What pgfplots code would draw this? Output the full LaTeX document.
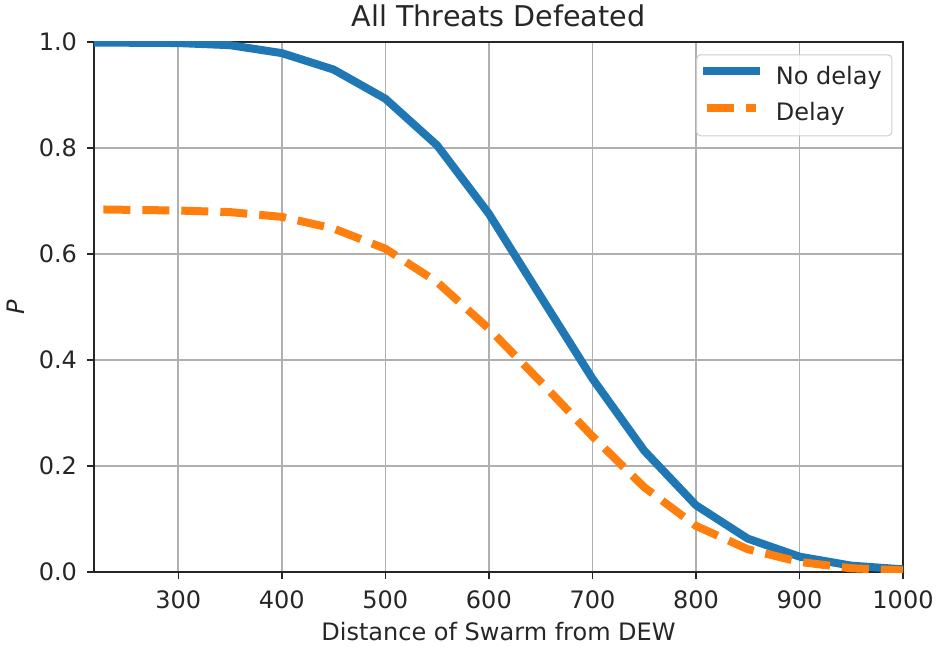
\documentclass[border=0pt]{standalone}
\usepackage{fontspec}
\setmainfont{DejaVu Sans}
\usepackage{pgfplots}
\pgfplotsset{compat=1.18}
\definecolor{mblue}{HTML}{1F77B4}
\definecolor{morange}{HTML}{FF7F0E}
\definecolor{tcol}{HTML}{262626}
\definecolor{gridc}{HTML}{B0B0B0}
\definecolor{legc}{HTML}{CCCCCC}

\pgfplotstableread{
x y
218.6 0.999
300 0.998
350 0.994
400 0.979
450 0.948
500 0.893
550 0.805
600 0.676
650 0.520
700 0.365
750 0.229
800 0.126
850 0.063
900 0.029
950 0.012
1000 0.005
}\nodelay

\pgfplotstableread{
x y
227.6 0.684
300 0.682
350 0.679
400 0.670
450 0.648
500 0.610
550 0.547
600 0.459
650 0.359
700 0.256
750 0.160
800 0.087
850 0.043
900 0.019
950 0.007
1000 0.003
}\delay

\begin{document}
\begin{tikzpicture}
\begin{axis}[
  scale only axis, width=404.5bp, height=265bp,
  xmin=218.6, xmax=1000, ymin=0, ymax=1,
  xtick={300,400,500,600,700,800,900,1000},
  ytick={0,0.2,0.4,0.6,0.8,1},
  /pgf/number format/assume math mode=true,
  /pgf/number format/1000 sep={},
  yticklabel style={/pgf/number format/fixed, /pgf/number format/fixed zerofill, /pgf/number format/precision=1},
  tick label style={font=\fontsize{12bp}{14bp}\selectfont, text=tcol},
  label style={font=\fontsize{12bp}{14bp}\selectfont, text=tcol},
  every axis title shift=0pt,
  title style={font=\fontsize{14.3bp}{16bp}\selectfont, text=tcol, at={(0.5,1.02887)}, anchor=base, yshift=0pt},
  title={All Threats Defeated},
  xlabel={Distance of Swarm from DEW},
  ylabel={\textit{P}},
  xlabel style={at={(0.5,-0.1296)}, anchor=base},
  ylabel style={at={(-0.0973,0.5)}, anchor=center},
  xticklabel style={anchor=base, yshift=-14.6bp},
  yticklabel style={anchor=east, xshift=-1.5bp},
  tick align=outside, tick pos=left,
  major tick length=3.5bp,
  every tick/.style={tcol, line width=0.7bp},
  axis line style={tcol, line width=0.7bp},
  grid=major,
  major grid style={gridc, line width=0.8bp},
  legend cell align=left,
  legend image code/.code={\path[draw=none,fill=none] (0bp,0bp) rectangle (24.7bp,7bp); \draw[#1, overlay] (0bp,3.5bp) -- (24.7bp,3.5bp);},
  legend style={at={(0.9868,0.9768)}, anchor=north east,
    fill=white, fill opacity=0.8, text opacity=1, draw=legc, line width=0.5bp,
    rounded corners=2bp,
    inner xsep=5bp, inner ysep=4.75bp, column sep=10bp, row sep=5.25bp,
    nodes={inner sep=0pt, text height=8.75bp, text depth=3bp},
    font=\fontsize{12bp}{14bp}\selectfont, text=tcol},
]
\addplot[mblue, line width=4bp, line cap=rect, line join=round] table[x=x,y=y] {\nodelay};
\addlegendentry{No delay}
\addplot[morange, line width=4bp, line cap=butt, line join=round, dash pattern=on 13.5bp off 6bp] table[x=x,y=y] {\delay};
\addlegendentry{Delay}
\end{axis}
\pgfresetboundingbox
\path[use as bounding box] ([xshift=-47bp,yshift=-37.5bp]current axis.south west) rectangle ([xshift=17.5bp,yshift=21bp]current axis.north east);
\end{tikzpicture}
\end{document}
